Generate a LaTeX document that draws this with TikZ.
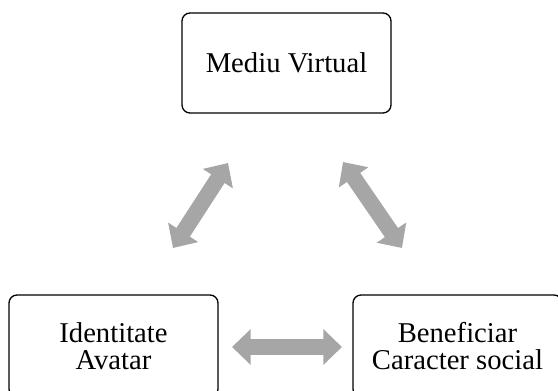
\documentclass[tikz,border=0pt]{standalone}
\usepackage{fontspec}
\setmainfont{Liberation Serif}
\usetikzlibrary{arrows.meta}
\begin{document}
\begin{tikzpicture}[x=0.75pt, y=-0.75pt]
      \tikzset{
	  conceptbox/.style={rectangle,rounded corners=6pt,draw=black,line width=1pt,fill=white,minimum width=156.75pt,minimum height=75pt,align=center,font=\fontsize{21.5}{20}\selectfont},
	  linkarrow/.style={draw=black!35,line width=12pt,{Triangle[length=14pt,width=26pt]}-{Triangle[length=14pt,width=26pt]}}
      }
      \useasboundingbox (0,0) rectangle (558,391);
      \clip (0,0) rectangle (558,391);
      \node at (286.5, 63) [conceptbox] (virtual) {Mediu Virtual};
      \node at (113.5, 346) [conceptbox, minimum height=76.5pt] (avatar) {Identitate\\Avatar};
      \node at (457.5, 346) [conceptbox, minimum height=76.5pt] (social) {Beneficiar\\Caracter social};

      \coordinate (virtualL) at (228,163);
      \coordinate (virtualR) at (343,162);
      \coordinate (avatarT) at (173,248);
      \coordinate (avatarR) at (232,347);
      \coordinate (socialT) at (402,248);
      \coordinate (socialL) at (342,347);
      \draw [linkarrow] (virtualL) -- (avatarT);
      \draw [linkarrow] (virtualR) -- (socialT);
      \draw [linkarrow] (avatarR) -- (socialL);
    \end{tikzpicture}
\end{document}
